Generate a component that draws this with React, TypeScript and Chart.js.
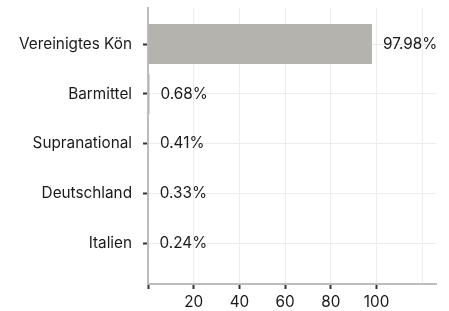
import React, { useEffect, useRef } from "react";
import { Chart, registerables } from "chart.js";

Chart.register(...registerables);

const categories = ["Vereinigtes Kön", "Barmittel", "Supranational", "Deutschland", "Italien"];
const values = [97.98, 0.68, 0.41, 0.33, 0.24];
const valueLabels = ["97.98%", "0.68%", "0.41%", "0.33%", "0.24%"];
const xTicks = [0, 20, 40, 60, 80, 100, 120];
const xMax = 126;

const FONT = "Inter, 'Noto Sans', sans-serif";
const FS = 15.3;

export default function App() {
  const ref = useRef<HTMLCanvasElement | null>(null);

  useEffect(() => {
    if (!ref.current) return;
    const labelPlugin = {
      id: "valueLabels",
      afterDatasetsDraw(chart: any) {
        const ctx = chart.ctx;
        const meta = chart.getDatasetMeta(0);
        ctx.save();
        ctx.font = `${FS}px ${FONT}`;
        ctx.fillStyle = "#1a1a1a";
        ctx.textAlign = "left";
        ctx.textBaseline = "middle";
        meta.data.forEach((bar: any, i: number) => {
          ctx.fillText(valueLabels[i], bar.x + 11, bar.y);
        });
        ctx.restore();
      },
    };

    const chart = new Chart(ref.current, {
      type: "bar",
      data: {
        datasets: [
          {
            data: values.map((v, i) => ({ x: v, y: i })),
            backgroundColor: "#b4b3ad",
            borderWidth: 0,
            barPercentage: 0.8,
            categoryPercentage: 1,
          },
        ],
      },
      options: {
        indexAxis: "y",
        animation: false,
        responsive: false,
        layout: { padding: { top: 8, right: 13, left: 0, bottom: 0 } },
        plugins: { legend: { display: false }, tooltip: { enabled: false } },
        scales: {
          x: {
            type: "linear",
            min: 0,
            max: xMax,
            offset: false,
            afterBuildTicks: (scale: any) => {
              scale.ticks = xTicks.map((v) => ({ value: v }));
            },
            afterFit: (scale: any) => {
              scale.height = 27;
              scale.paddingLeft = 0;
              scale.paddingRight = 0;
            },
            border: { display: true, color: "#bdbdbd", width: 2 },
            grid: {
              offset: false,
              color: "#ececec",
              lineWidth: 1,
              tickLength: 5,
              tickWidth: 2,
              tickColor: (c: any) => (c.tick && c.tick.value > 100 ? "rgba(0,0,0,0)" : "#333333"),
            },
            ticks: {
              padding: 4,
              color: "#1a1a1a",
              font: { family: FONT, size: FS },
              maxRotation: 0,
              callback: (v: any) => (v === 0 || v > 100 ? "" : String(v)),
            },
          },
          y: {
            type: "linear",
            reverse: true,
            min: -0.723,
            max: 4.81,
            offset: false,
            afterBuildTicks: (scale: any) => {
              scale.ticks = categories.map((_, i) => ({ value: i }));
            },
            afterFit: (scale: any) => {
              scale.width = 148;
              scale.paddingTop = 0;
              scale.paddingBottom = 0;
            },
            border: { display: true, color: "#bdbdbd", width: 2 },
            grid: {
              offset: false,
              color: "#ececec",
              lineWidth: 1,
              tickLength: 7,
              tickWidth: 2,
              tickColor: "#333333",
              tickBorderDash: [0, 2, 5, 60],
            },
            ticks: {
              padding: 9,
              color: "#1a1a1a",
              font: { family: FONT, size: FS },
              callback: (v: any) => categories[v as number] ?? "",
            },
          },
        },
      },
      plugins: [labelPlugin],
    } as any);
    return () => chart.destroy();
  }, []);

  return (
    <div style={{ position: "absolute", left: 0, top: 0, width: 449, height: 311, background: "#fff" }}>
      <canvas ref={ref} width={449} height={311} style={{ display: "block" }} />
    </div>
  );
}
